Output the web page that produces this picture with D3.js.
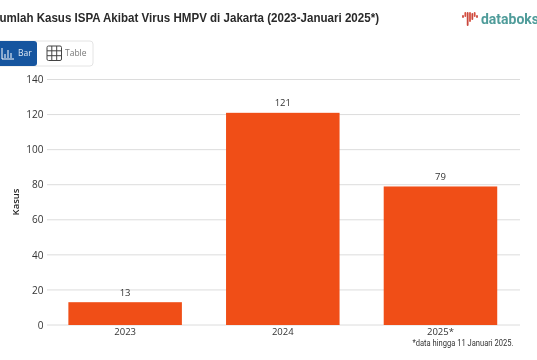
<!DOCTYPE html>
<html><head><meta charset="utf-8">
<script src="https://cdn.jsdelivr.net/npm/d3@7/dist/d3.min.js"></script>
<style>
html,body{margin:0;padding:0;background:#fff;overflow:hidden}
svg{display:block;filter:blur(0.4px)}
text{font-family:"Open Sans",sans-serif}
</style></head><body>
<svg id="c" width="537" height="360"></svg>
<script>
const categories = ["2023","2024","2025*"];
const values = [13,121,79];
const yTicks = [0,20,40,60,80,100,120,140];
const titleText = "Jumlah Kasus ISPA Akibat Virus HMPV di Jakarta (2023-Januari 2025*)";
const yLabel = "Kasus";
const footnote = "*data hingga 11 Januari 2025.";
const logoBars = [[0,-3,3],[1,-6,5],[2,-6,14],[3,-6,10],[4,-5,7],[5,-6,5],[6,-3,3]];

const svg = d3.select("#c");
const x = d3.scaleBand().domain(categories).range([46.3,519.3]).paddingInner(0.28).paddingOuter(0.14);
const y = d3.scaleLinear().domain([0,140]).range([325,79.5]);

svg.append("text").attr("x",-7).attr("y",22)
  .attr("font-family","Liberation Sans, sans-serif").style("font-family",'"Liberation Sans",sans-serif')
  .attr("font-size",13.6).attr("font-weight",700).attr("fill","#2a2a2a")
  .attr("textLength",386).attr("lengthAdjust","spacingAndGlyphs").text(titleText);

// logo
const logo = svg.append("g").attr("transform","translate(463,18)");
const lx = d3.scaleLinear().domain([0,6]).range([0,14]);
logo.selectAll("rect").data(logoBars).join("rect")
  .attr("x",d=>lx(d[0])-0.9).attr("y",d=>d[1]).attr("width",1.8).attr("height",d=>d[2])
  .attr("rx",0.9).attr("fill",(d,i)=>i%2?"#d8503f":"#c9473d");
svg.append("text").attr("x",481).attr("y",24).style("font-family","Roboto, sans-serif")
  .attr("font-size",14.5).attr("font-weight",700).attr("fill","#4f9c9a")
  .attr("textLength",58).attr("lengthAdjust","spacingAndGlyphs").text("databoks");

// buttons
svg.append("rect").attr("x",-6).attr("y",41).attr("width",99).attr("height",25).attr("rx",3)
  .attr("fill","#fff").attr("stroke","#e4e4e4");
svg.append("rect").attr("x",-6).attr("y",41).attr("width",43).attr("height",25).attr("rx",3).attr("fill","#16559f");
const barIcon = svg.append("g").attr("stroke","#fff").attr("stroke-width",1).attr("fill","none");
barIcon.append("path").attr("d","M2 48V59H14M5 58V54M8 58V50M11 58V53");
svg.append("text").attr("x",18).attr("y",56).attr("font-size",8.5).attr("fill","#dfe9f5").text("Bar");
const grid = svg.append("g").attr("stroke","#444").attr("stroke-width",1).attr("fill","none");
grid.append("rect").attr("x",47).attr("y",46).attr("width",14.5).attr("height",14.5).attr("rx",1.5);
grid.append("path").attr("d","M51.8 46V60.5M56.7 46V60.5M47 50.8H61.5M47 55.7H61.5");
svg.append("text").attr("x",65).attr("y",56).attr("font-size",8.5).attr("fill","#777").text("Table");

// grid
svg.append("g").selectAll("line").data(yTicks).join("line")
  .attr("x1",47).attr("x2",520).attr("y1",d=>y(d)).attr("y2",d=>y(d))
  .attr("stroke","#dcdcdc").attr("stroke-width",1);

// axes
const yAxis = svg.append("g").attr("transform","translate(47,0)")
  .call(d3.axisLeft(y).tickValues(yTicks).tickSize(0).tickPadding(3.5));
yAxis.select(".domain").remove();
yAxis.selectAll("text").attr("font-size",10).attr("fill","#333").style("font-family",'"Open Sans",sans-serif');
const xAxis = svg.append("g").attr("transform","translate(0,325)")
  .call(d3.axisBottom(x).tickSize(0).tickPadding(3.5));
xAxis.select(".domain").remove();
xAxis.selectAll("text").attr("font-size",9.5).attr("fill","#333").style("font-family",'"Open Sans",sans-serif');

svg.append("text").attr("transform","translate(19,202) rotate(-90)").attr("text-anchor","middle")
  .attr("font-size",9.5).attr("font-weight",600).attr("fill","#222").text(yLabel);

// bars
svg.append("g").selectAll("rect").data(values).join("rect")
  .attr("x",(d,i)=>x(categories[i])).attr("width",x.bandwidth())
  .attr("y",d=>y(d)).attr("height",d=>y(0)-y(d)).attr("fill","#f04e17");
svg.append("g").selectAll("text").data(values).join("text")
  .attr("x",(d,i)=>x(categories[i])+x.bandwidth()/2).attr("y",d=>y(d)-6.5)
  .attr("text-anchor","middle").attr("font-size",9.5).attr("fill","#333").text(d=>d);

svg.append("text").attr("x",513.5).attr("y",346).attr("text-anchor","end").style("font-family","Roboto, sans-serif")
  .attr("font-size",8.4).attr("fill","#333")
  .attr("textLength",101).attr("lengthAdjust","spacingAndGlyphs").text(footnote);
</script></body></html>
